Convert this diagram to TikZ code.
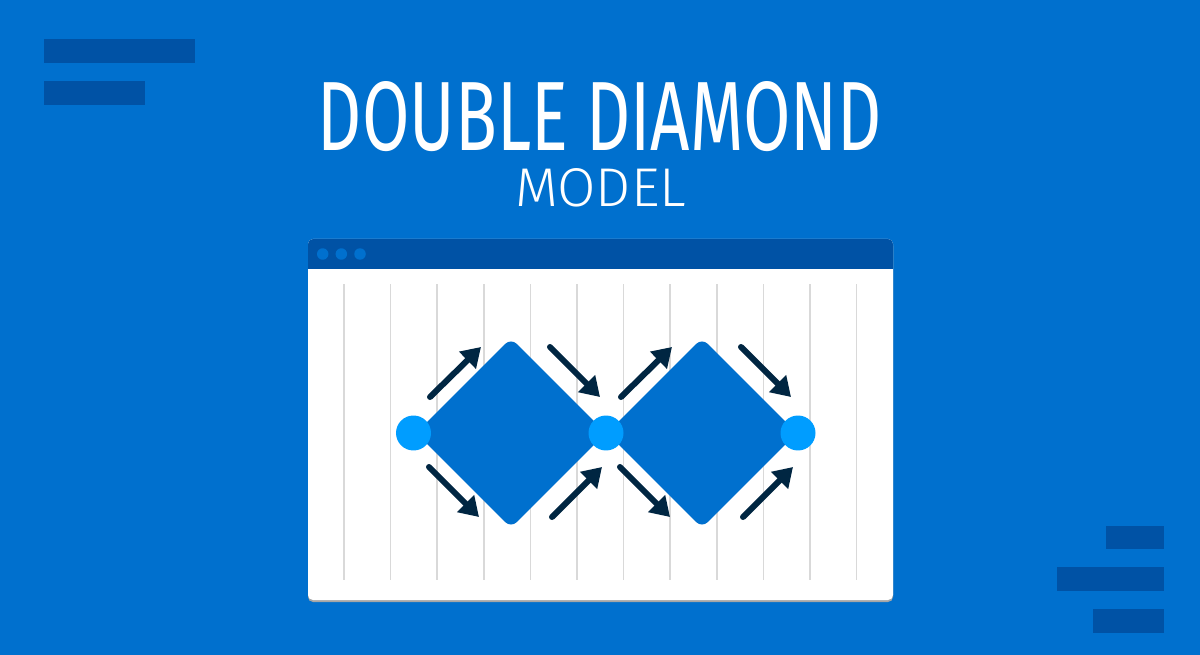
\documentclass[tikz,border=0pt]{standalone}
\usepackage{fontspec}
\usepackage{graphicx}
\usetikzlibrary{shapes.geometric,arrows.meta}
\newfontfamily\titlefont{Fira Sans}
\newfontfamily\thinfont{Fira Sans Light}
\definecolor{bgblue}{RGB}{0,112,206}
\definecolor{barblue}{RGB}{0,82,165}
\definecolor{dotblue}{RGB}{0,157,255}
\definecolor{navy}{RGB}{0,38,66}
\definecolor{gridgray}{RGB}{217,217,217}

\begin{document}
\begin{tikzpicture}[x=0.02cm,y=-0.02cm,
  bar/.style={fill=barblue},
  heading/.style={text=white,inner sep=0pt},
  gridline/.style={draw=gridgray,line width=0.03cm},
  phase/.style={diamond,fill=bgblue,minimum width=3.8cm,minimum height=3.8cm,inner sep=0pt,rounded corners=0.16cm},
  knot/.style={circle,fill=dotblue,minimum size=0.7cm,inner sep=0pt},
  winbtn/.style={circle,fill=bgblue,minimum size=0.23cm,inner sep=0pt},
  flow/.style={draw=navy,line width=0.12cm,line cap=round,-{Triangle[length=0.38cm,width=0.46cm]}}]
\useasboundingbox (0,0) rectangle (1200,655);
\fill[bgblue] (0,0) rectangle (1200,655);
% corner bars
\fill[bar] (44,39) rectangle (195,63);
\fill[bar] (44,81) rectangle (145,105);
\fill[bar] (1106,526) rectangle (1164,549);
\fill[bar] (1057,567) rectangle (1164,591);
\fill[bar] (1093,609) rectangle (1164,633);
% title
\node[heading] (title) at (600,116.5) {\resizebox{11.28cm}{1.38cm}{\titlefont DOUBLE DIAMOND}};
\node[heading] (sub) at (600.5,188) {\resizebox{3.42cm}{0.76cm}{\thinfont MODEL}};
% window
\fill[black!35,rounded corners=0.1cm] (308,241) rectangle (893,602);
\fill[white,rounded corners=0.1cm] (308,239) rectangle (893,600);
\fill[barblue] (308,269) [rounded corners=0.1cm] -- (308,239) -- (893,239) [sharp corners] -- (893,269) -- cycle;
\node[winbtn] (b1) at (322.7,254) {};
\node[winbtn] (b2) at (341.3,254) {};
\node[winbtn] (b3) at (360,254) {};
\foreach \k in {0,...,11}
  \draw[gridline] (344+46.6*\k,284) -- (344+46.6*\k,580);
% diamonds
\node[phase] (d1) at (511,433) {};
\node[phase] (d2) at (702,433) {};
\node[knot] (k1) at (413.5,433) {};
\node[knot] (k2) at (606,433) {};
\node[knot] (k3) at (798,433) {};
% arrows
\foreach \d in {d1,d2} {
  \draw[flow] ([shift={(-81,-36)}]\d.center) -- ([shift={(-30,-86)}]\d.center);
  \draw[flow] ([shift={(39,-86)}]\d.center) -- ([shift={(89,-36)}]\d.center);
  \draw[flow] ([shift={(-82,34)}]\d.center) -- ([shift={(-32,84)}]\d.center);
  \draw[flow] ([shift={(41,84)}]\d.center) -- ([shift={(91,34)}]\d.center);
}
\end{tikzpicture}
\end{document}
